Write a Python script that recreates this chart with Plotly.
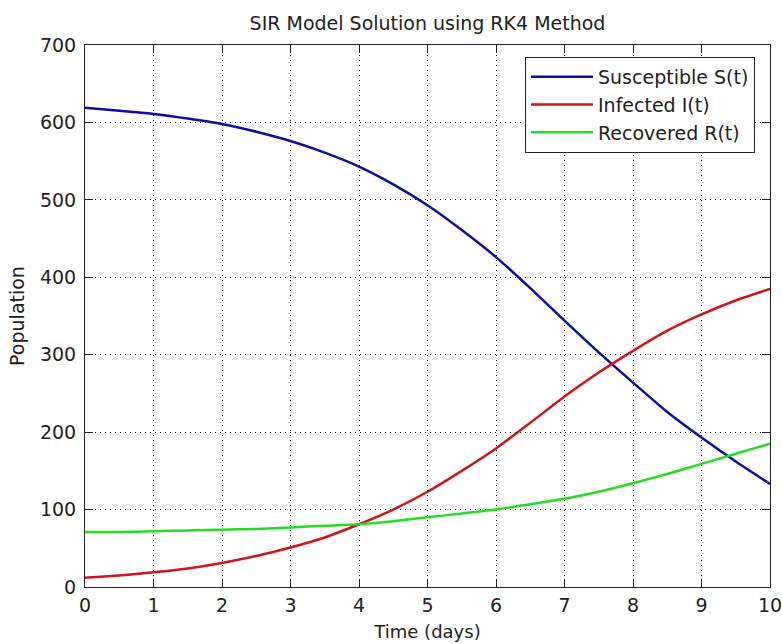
import plotly.graph_objects as go

t = [0, 0.5, 1, 1.5, 2, 2.5, 3, 3.5, 4, 4.5, 5, 5.5, 6, 6.5, 7, 7.5, 8, 8.5, 9, 9.5, 10]
S = [619, 615, 611, 605, 598, 588, 576, 561, 543, 520, 493, 461, 426, 386, 344, 303, 264, 226, 193, 162, 133]
I = [12, 15, 19, 24, 31, 40, 51, 64, 81, 100, 123, 150, 179, 212, 246, 277, 305, 331, 352, 370, 385]
R = [71, 71, 72, 73, 74, 75, 77, 79, 81, 85, 90, 95, 100, 107, 114, 123, 134, 146, 159, 172, 185]

names = ["Susceptible S(t)", "Infected I(t)", "Recovered R(t)"]
colors = ["#0d0da6", "#d21414", "#22dd22"]

FONT = "DejaVu Sans"
TXT = "#222222"

fig = go.Figure()
for y, n, c in zip([S, I, R], names, colors):
    fig.add_trace(go.Scatter(x=t, y=y, mode="lines", name=n,
                             line=dict(color=c, width=2.5, shape="spline", smoothing=0.6)))

axis_common = dict(
    showgrid=True, gridcolor="black", gridwidth=1, griddash="1px,4px",
    zeroline=False, showline=True, linecolor=TXT, linewidth=1,
    mirror="ticks", ticks="inside", ticklen=8, tickcolor=TXT,
    tickfont=dict(family=FONT, size=19, color=TXT), automargin=False,
    ticklabeloverflow="allow",
)

fig.update_layout(
    width=782, height=644,
    margin=dict(l=85, r=12, t=45, b=57),
    paper_bgcolor="white", plot_bgcolor="white",
    title=dict(text="SIR Model Solution using RK4 Method", x=0.5, xref="paper",
               y=1 - 23 / 644, yref="container", yanchor="middle", xanchor="center",
               font=dict(family=FONT, size=19, color=TXT)),
    xaxis=dict(range=[0, 10], tickvals=list(range(0, 11)), ticklabelstandoff=1,
               title=dict(text="Time (days)", font=dict(family=FONT, size=18, color=TXT), standoff=10),
               **axis_common),
    yaxis=dict(range=[0, 700], tickvals=list(range(0, 701, 100)), ticklabelstandoff=4,
               title=dict(text="Population", font=dict(family=FONT, size=19, color=TXT), standoff=10),
               **axis_common),
    legend=dict(x=(755 - 85) / 685, y=(587 - 57) / 542, xanchor="right", yanchor="top",
                bgcolor="white", bordercolor=TXT, borderwidth=1,
                font=dict(family=FONT, size=19, color=TXT), itemwidth=62),
    showlegend=True,
)

fig.write_html("out.html",
               config={"displayModeBar": False},
               post_script="document.body.style.margin='0';document.body.style.overflow='hidden';")
